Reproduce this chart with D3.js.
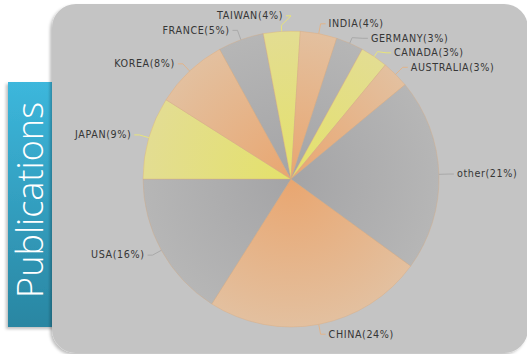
<!DOCTYPE html>
<html>
<head>
<meta charset="utf-8">
<script src="https://cdn.jsdelivr.net/npm/d3@7"></script>
<style>
  html, body { margin: 0; padding: 0; background: #ffffff; }
  svg { display: block; }
</style>
</head>
<body>
<svg id="chart" width="527" height="354"></svg>
<script>
// Share of publications by country
const countries = ["CHINA", "USA", "JAPAN", "KOREA", "FRANCE", "TAIWAN", "INDIA", "GERMANY", "CANADA", "AUSTRALIA", "other"];
const shares = [24, 16, 9, 8, 5, 4, 4, 3, 3, 3, 21];
const sideTitle = "Publications";

// Slice fills cycle through three tones
const toneNames = ["orange", "gray", "yellow"];
const toneInner = { orange: "#e9a670", gray: "#a4a4a6", yellow: "#e4e16a" };
const toneOuter = { orange: "#e3c09f", gray: "#b6b6b6", yellow: "#e3dd92" };
const toneLine = { orange: "#e2b48a", gray: "#a9a9a9", yellow: "#e8e47a" };

const W = 527, H = 354;
const cx = 291, cy = 179, R = 148;
const labelR = 158, labelGap = 14.5, labelPad = 8;

const svg = d3.select("#chart");
const defs = svg.append("defs");

// soft drop shadows for the panel and the title tab
const sh = defs.append("filter").attr("id", "shadow")
  .attr("x", "-10%").attr("y", "-10%").attr("width", "125%").attr("height", "125%");
sh.append("feDropShadow").attr("dx", -2).attr("dy", 2).attr("stdDeviation", 1.6)
  .attr("flood-color", "#000").attr("flood-opacity", 0.25);

const tabGrad = defs.append("linearGradient").attr("id", "tabGrad")
  .attr("x1", 0).attr("y1", 0).attr("x2", 0).attr("y2", 1);
tabGrad.append("stop").attr("offset", 0).attr("stop-color", "#3cb7dc");
tabGrad.append("stop").attr("offset", 1).attr("stop-color", "#2a86a2");

toneNames.forEach(t => {
  const g = defs.append("radialGradient").attr("id", "fill-" + t)
    .attr("gradientUnits", "userSpaceOnUse").attr("cx", 0).attr("cy", 0).attr("r", R);
  g.append("stop").attr("offset", 0).attr("stop-color", toneInner[t]);
  g.append("stop").attr("offset", 1).attr("stop-color", toneOuter[t]);
});

// title tab on the left
svg.append("rect")
  .attr("x", 8).attr("y", 82).attr("width", 50).attr("height", 245)
  .attr("fill", "url(#tabGrad)").attr("filter", "url(#shadow)");

// grey rounded panel that holds the pie
svg.append("rect")
  .attr("x", 52).attr("y", 4).attr("width", 476).attr("height", 349)
  .attr("rx", 24).attr("ry", 24)
  .attr("fill", "#c4c4c4").attr("filter", "url(#shadow)");

const title = svg.append("text")
  .attr("transform", "translate(43,200) rotate(-90)")
  .attr("text-anchor", "middle")
  .attr("font-family", "'Open Sans', 'Noto Sans', sans-serif")
  .attr("font-weight", 300)
  .attr("font-size", 33)
  .attr("fill", "#ffffff")
  .text(sideTitle);
// fit the title to the tab length
const tl = title.node().getComputedTextLength();
title.attr("font-size", 33 * 196 / tl);

// pie
const data = countries.map((c, i) => ({ name: c, value: shares[i], tone: toneNames[i % 3] }));
const start = 126 * Math.PI / 180;
const pie = d3.pie().value(d => d.value).sort(null)
  .startAngle(start).endAngle(start + 2 * Math.PI);
const arcs = pie(data);
const arc = d3.arc().innerRadius(0).outerRadius(R);

const g = svg.append("g").attr("transform", `translate(${cx},${cy})`);

g.selectAll("path.slice").data(arcs).join("path")
  .attr("class", "slice")
  .attr("d", arc)
  .attr("fill", d => `url(#fill-${d.data.tone})`)
  .attr("stroke", "#d9a77c")
  .attr("stroke-opacity", 0.45)
  .attr("stroke-width", 0.8)
  .attr("stroke-linejoin", "round");

// outside labels: natural position on a larger ring, then pushed apart
const labels = arcs.map(d => {
  const a = (d.startAngle + d.endAngle) / 2;
  const s = Math.sin(a), c = Math.cos(a);
  return { d, a, right: s >= 0, y: -c * labelR };
});

function resolve(list) {
  for (let i = 1; i < list.length; i++) {
    const prev = list[i - 1], cur = list[i];
    if (cur.right) {
      if (cur.y - prev.y < labelGap) cur.y = prev.y + labelGap;
    } else {
      if (prev.y - cur.y < labelGap) cur.y = prev.y - labelGap;
    }
  }
}
// clockwise order: right side top to bottom, left side bottom to top
const rightSide = labels.filter(l => l.right).sort((p, q) => p.y - q.y);
const leftSide = labels.filter(l => !l.right).sort((p, q) => q.y - p.y);
resolve(rightSide);
resolve(leftSide);

labels.forEach(l => {
  const dy = l.y;
  const dx = Math.sqrt(Math.max(0, labelR * labelR - dy * dy));
  l.x = l.right ? dx : -dx;
});

g.selectAll("path.connector").data(labels).join("path")
  .attr("class", "connector")
  .attr("fill", "none")
  .attr("stroke", l => toneLine[l.d.data.tone])
  .attr("stroke-width", 1)
  .attr("d", l => {
    const s = Math.sin(l.a), c = Math.cos(l.a);
    const ex = s * R, ey = -c * R;
    const bx = s * (R + 6), by = -c * (R + 6);
    const tx = l.x + (l.right ? 5 : -5);
    return `M${tx},${l.y}L${l.x},${l.y}L${bx},${by}L${ex},${ey}`;
  });

g.selectAll("text.label").data(labels).join("text")
  .attr("class", "label")
  .attr("x", l => l.x + (l.right ? labelPad : -labelPad))
  .attr("y", l => l.y)
  .attr("dy", "0.35em")
  .attr("text-anchor", l => l.right ? "start" : "end")
  .attr("font-family", "'DejaVu Sans', Verdana, sans-serif")
  .attr("font-size", 9.6)
  .attr("letter-spacing", 0.6)
  .attr("fill", "#363636")
  .text(l => `${l.d.data.name}(${l.d.data.value}%)`);
</script>
</body>
</html>
